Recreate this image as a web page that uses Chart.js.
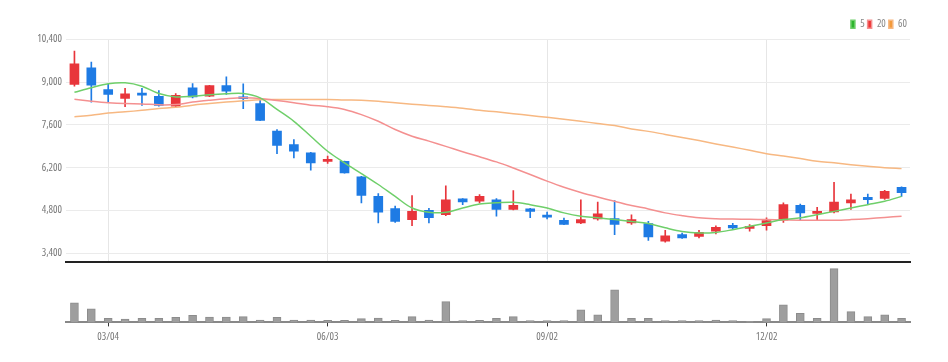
<!DOCTYPE html>
<html>
<head>
<meta charset="utf-8">
<script src="https://cdn.jsdelivr.net/npm/chart.js@4.4.1/dist/chart.umd.min.js"></script>
<style>
  html, body { margin: 0; padding: 0; background: #fff; }
  #wrap { position: relative; width: 948px; height: 362px; }
  #price { position: absolute; left: 0; top: 0; }
  #volume { position: absolute; left: 0; top: 264px; }
</style>
</head>
<body>
<div id="wrap">
  <canvas id="price" width="948" height="272"></canvas>
  <canvas id="volume" width="948" height="98"></canvas>
</div>
<script>
// ==================== DADOS ====================
const weeks = ["02/19", "02/26", "03/04", "03/11", "03/18", "03/25", "04/01", "04/08", "04/15", "04/22",
  "04/29", "05/06", "05/13", "05/20", "05/27", "06/03", "06/10", "06/17", "06/24", "07/01",
  "07/08", "07/15", "07/22", "07/29", "08/05", "08/12", "08/19", "08/26", "09/02", "09/09",
  "09/16", "09/23", "09/30", "10/07", "10/14", "10/21", "10/28", "11/04", "11/11", "11/18",
  "11/25", "12/02", "12/09", "12/16", "12/23", "12/30", "01/06", "01/13", "01/20", "01/27"];

const opens = [8930, 9470, 8760, 8470, 8630, 8540, 8220, 8820, 8540, 8890,
  8510, 8300, 7400, 6960, 6690, 6410, 6410, 5900, 5260, 4860,
  4500, 4800, 4660, 5180, 5100, 5150, 4830, 4850, 4630, 4480,
  4390, 4520, 4530, 4390, 4370, 3790, 4010, 3950, 4120, 4310,
  4210, 4300, 4480, 4970, 4700, 4750, 5050, 5230, 5190, 5560];
const closes = [9600, 8900, 8600, 8620, 8580, 8240, 8570, 8520, 8890, 8710,
  8460, 7750, 6930, 6740, 6360, 6460, 6030, 5290, 4740, 4440,
  4770, 4560, 5150, 5080, 5260, 4830, 4970, 4770, 4580, 4340,
  4500, 4690, 4340, 4500, 3930, 3970, 3900, 4080, 4250, 4230,
  4280, 4470, 4990, 4720, 4770, 5070, 5150, 5150, 5430, 5380];
const highs = [10020, 9660, 8930, 8800, 8800, 8730, 8630, 8960, 8900, 9180,
  8950, 8460, 7450, 7120, 6700, 6580, 6420, 5920, 5350, 4940,
  5290, 4870, 5610, 5190, 5320, 5190, 5450, 4870, 4750, 4550,
  5150, 5070, 5120, 4660, 4440, 4150, 4060, 4150, 4300, 4380,
  4340, 4560, 5050, 5010, 4900, 5720, 5340, 5340, 5460, 5570];
const lows = [8870, 8350, 8330, 8200, 8240, 8220, 8195, 8490, 8530, 8600,
  8130, 7740, 6660, 6520, 6120, 6340, 6020, 5050, 4390, 4410,
  4300, 4390, 4630, 4990, 5050, 4610, 4820, 4560, 4520, 4330,
  4370, 4480, 4010, 4340, 3820, 3760, 3880, 3900, 4030, 4200,
  4120, 4150, 4410, 4500, 4480, 4720, 4830, 5000, 5160, 5260];

const ma5 = [8670, 8820, 8950, 8980, 8870, 8630, 8520, 8540, 8590, 8620,
  8630, 8490, 8110, 7720, 7230, 6740, 6360, 6010, 5650, 5260,
  4880, 4740, 4740, 4880, 5010, 5050, 5070, 4990, 4880, 4720,
  4610, 4560, 4500, 4440, 4370, 4230, 4110, 4060, 4080, 4170,
  4280, 4390, 4500, 4560, 4660, 4770, 4880, 4990, 5100, 5260];
const ma20 = [8440, 8380, 8330, 8300, 8290, 8260, 8270, 8350, 8410, 8460,
  8490, 8470, 8400, 8330, 8250, 8200, 8110, 7940, 7720, 7450,
  7230, 7070, 6900, 6720, 6560, 6390, 6190, 5980, 5760, 5560,
  5390, 5240, 5100, 4960, 4850, 4720, 4630, 4560, 4530, 4520,
  4510, 4500, 4490, 4480, 4480, 4480, 4500, 4530, 4570, 4610];
const ma60 = [7870, 7920, 7990, 8030, 8080, 8140, 8180, 8250, 8300, 8350,
  8390, 8430, 8435, 8435, 8435, 8435, 8420, 8410, 8380, 8330,
  8280, 8240, 8200, 8150, 8080, 8030, 7970, 7910, 7850, 7790,
  7720, 7650, 7580, 7470, 7390, 7290, 7190, 7090, 6980, 6880,
  6770, 6660, 6580, 6500, 6410, 6360, 6300, 6250, 6200, 6170];

const volumes = [388000, 268000, 80000, 68000, 80000, 80000, 100000, 140000, 106000, 106000,
  114000, 46000, 100000, 46000, 46000, 40000, 40000, 74000, 86000, 40000,
  114000, 46000, 414000, 34000, 40000, 80000, 114000, 34000, 34000, 34000,
  248000, 148000, 648000, 80000, 80000, 34000, 34000, 34000, 46000, 34000,
  20000, 74000, 348000, 180000, 80000, 1068000, 214000, 114000, 148000, 80000];

const yTicks = [3400, 4800, 6200, 7600, 9000, 10400];
const maLabels = ["5", "20", "60"];

// ==================== ESTILO ====================
// "condensed" vai no lugar do peso para virar font-stretch na string do canvas
const FONT = { family: "'Open Sans', sans-serif", size: 10.5, weight: "condensed" };
const UP = "#e8353b";
const DOWN = "#1e7be4";
const showTick = (i) => i % 13 === 2;

Chart.defaults.font.family = FONT.family;
Chart.defaults.font.size = FONT.size;
Chart.defaults.color = "#777";

const candleColors = opens.map((o, i) => (closes[i] >= o ? UP : DOWN));

// ==================== GRÁFICO DE PREÇO ====================
new Chart(document.getElementById("price"), {
  type: "bar",
  data: {
    labels: weeks,
    datasets: [
      { type: "line", label: maLabels[0], data: ma5, borderColor: "#6fcf6a", backgroundColor: "#2db52d",
        borderWidth: 1.5, pointRadius: 0, tension: 0.35, fill: false, order: 0 },
      { type: "line", label: maLabels[1], data: ma20, borderColor: "#f49090", backgroundColor: "#ee3535",
        borderWidth: 1.5, pointRadius: 0, tension: 0.35, fill: false, order: 0 },
      { type: "line", label: maLabels[2], data: ma60, borderColor: "#f7b882", backgroundColor: "#f39a3a",
        borderWidth: 1.5, pointRadius: 0, tension: 0.35, fill: false, order: 0 },
      { label: "wick", data: lows.map((l, i) => [l, highs[i]]), backgroundColor: candleColors,
        barThickness: 1, grouped: false, order: 2 },
      { label: "body", data: opens.map((o, i) => [o, closes[i]]), backgroundColor: candleColors,
        barThickness: 9, minBarLength: 2, grouped: false, order: 1 },
    ],
  },
  options: {
    responsive: false,
    animation: false,
    layout: { padding: { left: 0, right: 38, top: 16, bottom: 2 } },
    plugins: {
      tooltip: { enabled: false },
      legend: {
        position: "top",
        align: "end",
        labels: {
          filter: (item) => item.datasetIndex < 3,
          boxWidth: 4,
          boxHeight: 8,
          padding: 3,
          color: "#888",
          font: FONT,
        },
      },
    },
    scales: {
      x: {
        offset: true,
        grid: {
          offset: false,
          drawTicks: false,
          color: (ctx) => (showTick(ctx.index) ? "#e6e6e6" : "rgba(0,0,0,0)"),
        },
        border: { color: "#222", width: 2 },
        ticks: { display: false, autoSkip: false },
      },
      y: {
        min: 3121,
        max: 10400,
        afterBuildTicks: (s) => { s.ticks = yTicks.map((v) => ({ value: v })); },
        afterFit: (s) => { s.width = 66; s.paddingTop = 24; },
        grid: { color: "#ebebeb", drawTicks: false },
        border: { display: false },
        ticks: {
          color: "#777",
          padding: 4,
          font: FONT,
          callback: (v) => v.toLocaleString("en-US"),
        },
      },
    },
  },
});

// ==================== GRÁFICO DE VOLUME ====================
new Chart(document.getElementById("volume"), {
  type: "bar",
  data: {
    labels: weeks,
    datasets: [
      { label: "volume", data: volumes, backgroundColor: "#9e9e9e", borderColor: "#8c8c8c",
        borderWidth: 1, barThickness: 8 },
    ],
  },
  options: {
    responsive: false,
    animation: false,
    layout: { padding: { left: 66, right: 38, top: 2, bottom: 15 } },
    plugins: { legend: { display: false }, tooltip: { enabled: false } },
    scales: {
      x: {
        z: 1,
        grid: {
          offset: false,
          drawOnChartArea: false,
          tickLength: 4,
          tickColor: (ctx) => (showTick(ctx.index) ? "#333" : "rgba(0,0,0,0)"),
        },
        border: { color: "#888", width: 2 },
        ticks: {
          autoSkip: false,
          maxRotation: 0,
          color: "#777",
          padding: 4,
          font: FONT,
          callback: (v, i) => (showTick(i) ? weeks[i] : ""),
        },
      },
      y: { display: false, min: 0, max: 1120000 },
    },
  },
});
</script>
</body>
</html>
